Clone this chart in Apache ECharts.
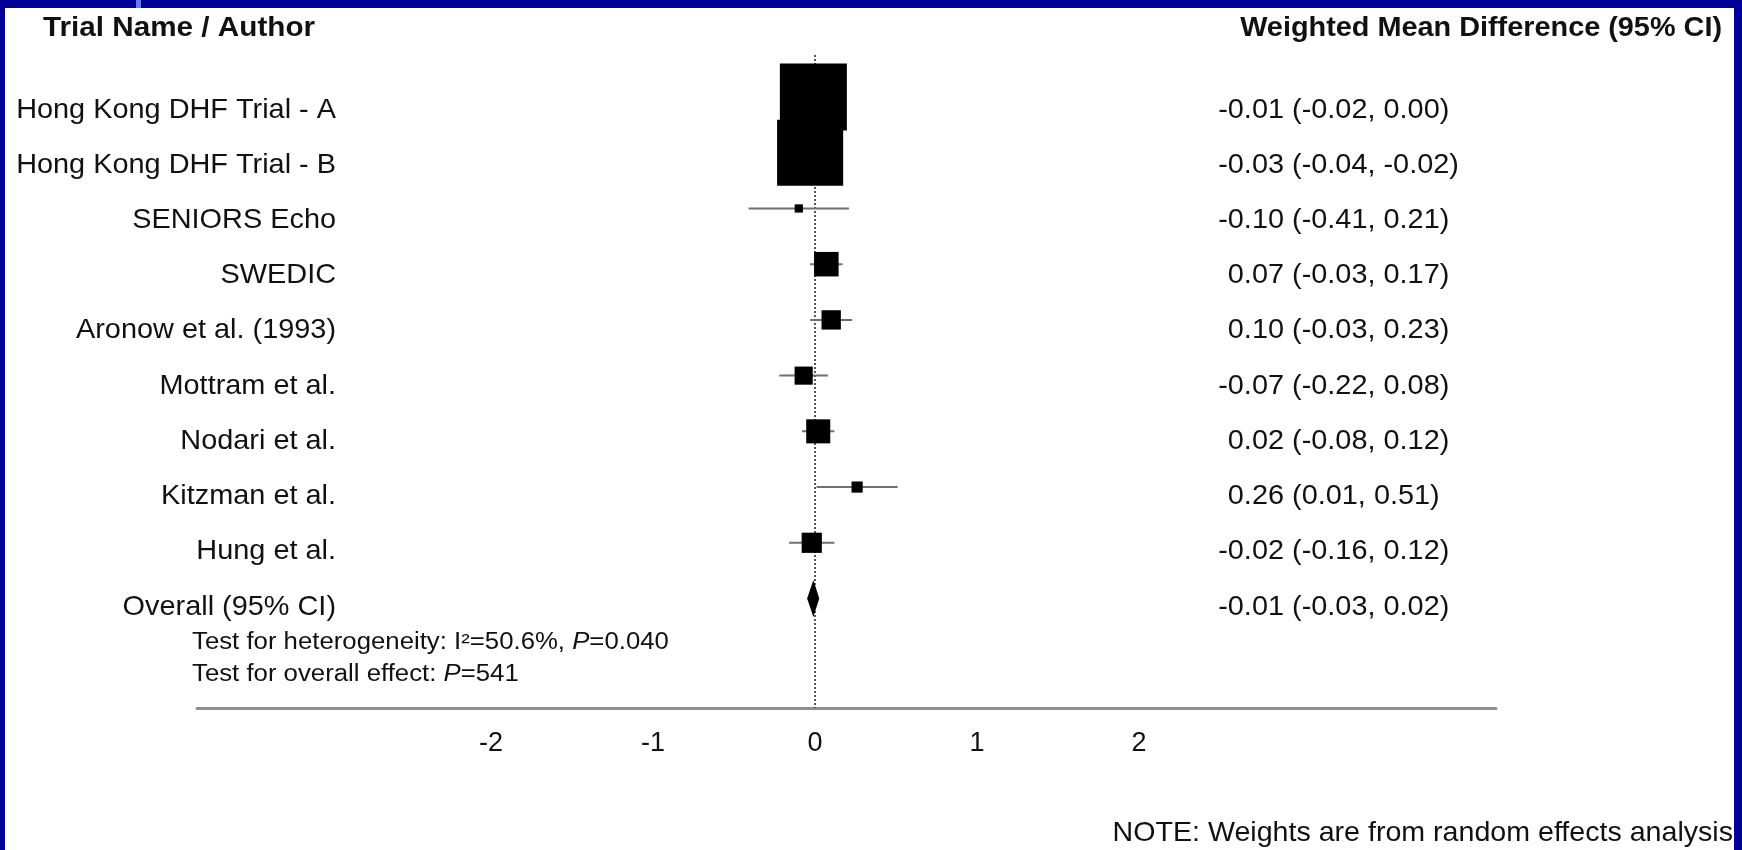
<!DOCTYPE html>
<html>
<head>
<meta charset="utf-8">
<title>Weighted Mean Difference - forest plot</title>
<script src="https://cdn.jsdelivr.net/npm/echarts@6/dist/echarts.min.js"></script>
<style>
html, body { margin: 0; padding: 0; background: #000098; }
#main { width: 1742px; height: 850px; }
</style>
</head>
<body>
<div id="main"></div>
<script>
var studies = [
    'Hong Kong DHF Trial - A',
    'Hong Kong DHF Trial - B',
    'SENIORS Echo',
    'SWEDIC',
    'Aronow et al. (1993)',
    'Mottram et al.',
    'Nodari et al.',
    'Kitzman et al.',
    'Hung et al.'
];
var estimates = [-0.01, -0.03, -0.10, 0.07, 0.10, -0.07, 0.02, 0.26, -0.02];
var lowerCI = [-0.02, -0.04, -0.41, -0.03, -0.03, -0.22, -0.08, 0.01, -0.16];
var upperCI = [0.00, -0.02, 0.21, 0.17, 0.23, 0.08, 0.12, 0.51, 0.12];
// % weights (random effects)
var weights = [39.6, 38.5, 0.6, 5.3, 3.3, 2.9, 5.1, 1.1, 3.6];

var overallLabel = 'Overall (95% CI)';
var overallEstimate = -0.01;
var overallLower = -0.03;
var overallUpper = 0.02;

var heterogeneityText = 'Test for heterogeneity: I\u00b2=50.6%, {i|P}=0.040';
var overallEffectText = 'Test for overall effect: {i|P}=541';
var noteText = 'NOTE: Weights are from random effects analysis';

var xTicks = [-2, -1, 0, 1, 2];

var FONT = '"Liberation Sans", Arial, sans-serif';
var BOX_SCALE = 10.65; // px per sqrt(weight)

function fmt(v) {
    return v.toFixed(2);
}

function textEl(str, x, y, align, size, stretch, weight) {
    return {
        type: 'text',
        x: x,
        y: y,
        scaleX: stretch,
        style: {
            text: str,
            fill: '#111',
            fontSize: size,
            fontFamily: FONT,
            fontWeight: weight || 'normal',
            align: align,
            verticalAlign: 'middle',
            rich: {
                i: { fontStyle: 'italic', fontSize: size, fontFamily: FONT, fill: '#111' }
            }
        }
    };
}

// text rows sit a little below the marks, and drift up slightly going down
function rowTexts(label, est, lo, hi, y, row) {
    var ty = y + 13 - 0.5 * row;
    return [
        textEl(label, 336, ty, 'right', 27.5, 1.05),
        textEl(fmt(est), 1284, ty, 'right', 27.5, 1.05),
        textEl(' (' + fmt(lo) + ', ' + fmt(hi) + ')', 1284, ty, 'left', 27.5, 1.05)
    ];
}

var studyData = studies.map(function (name, i) {
    return [estimates[i], i, lowerCI[i], upperCI[i], weights[i]];
});
var overallData = [[overallEstimate, studies.length, overallLower, overallUpper]];

var chart = echarts.init(document.getElementById('main'));

chart.setOption({
    animation: false,
    backgroundColor: '#000098',
    graphic: {
        elements: [
            { type: 'rect', z: -10, shape: { x: 5, y: 8, width: 1729, height: 842 }, style: { fill: '#fff' } },
            { type: 'rect', z: -10, shape: { x: 136, y: 0, width: 5, height: 8 }, style: { fill: '#5f7cf2' } },
            textEl('Trial Name / Author', 43, 28, 'left', 28, 1.06, 'bold'),
            textEl('Weighted Mean Difference (95% CI)', 1722, 28, 'right', 28, 1.03, 'bold'),
            textEl(heterogeneityText, 192, 643, 'left', 23, 1.12),
            textEl(overallEffectText, 192, 675, 'left', 23, 1.12),
            textEl(noteText, 1733, 833, 'right', 27.5, 1.04)
        ]
    },
    grid: {
        left: 197,
        right: 246,
        top: 55,
        bottom: 142,
        containLabel: false,
        outerBoundsMode: 'none'
    },
    xAxis: {
        type: 'value',
        min: -3.815,
        max: 4.204,
        splitLine: { show: false },
        axisTick: { show: false },
        axisLine: {
            onZero: false,
            lineStyle: { color: '#8f8f8f', width: 3 }
        },
        axisLabel: {
            customValues: xTicks,
            color: '#111',
            fontSize: 27,
            fontFamily: FONT,
            margin: 22,
            formatter: function (v) {
                return xTicks.indexOf(v) >= 0 ? String(v) : '';
            }
        }
    },
    yAxis: {
        type: 'value',
        inverse: true,
        min: -0.754,
        max: 10.965,
        show: false
    },
    series: [
        {
            name: 'studies',
            type: 'custom',
            z: 3,
            clip: false,
            data: studyData,
            renderItem: function (params, api) {
                var i = params.dataIndex;
                var row = api.value(1);
                var c = api.coord([api.value(0), row]);
                var l = api.coord([api.value(2), row]);
                var h = api.coord([api.value(3), row]);
                var s = Math.sqrt(api.value(4)) * BOX_SCALE;
                return {
                    type: 'group',
                    children: [
                        {
                            type: 'line',
                            shape: { x1: l[0], y1: l[1], x2: h[0], y2: h[1] },
                            style: { stroke: '#707070', lineWidth: 2 }
                        },
                        {
                            type: 'rect',
                            shape: { x: c[0] - s / 2, y: c[1] - s / 2, width: s, height: s },
                            style: { fill: '#000' }
                        }
                    ].concat(rowTexts(studies[i], api.value(0), api.value(2), api.value(3), c[1], row))
                };
            },
            markLine: {
                silent: true,
                z: 1,
                symbol: ['none', 'none'],
                label: { show: false },
                lineStyle: { color: '#555', width: 2, type: [2, 2] },
                data: [{ xAxis: 0 }]
            }
        },
        {
            name: 'overall',
            type: 'custom',
            z: 3,
            clip: false,
            data: overallData,
            renderItem: function (params, api) {
                var row = api.value(1);
                var c = api.coord([api.value(0), row]);
                var l = api.coord([api.value(2), row]);
                var h = api.coord([api.value(3), row]);
                var half = 18.5;
                return {
                    type: 'group',
                    children: [
                        {
                            type: 'polygon',
                            shape: { points: [[l[0] - 3, l[1]], [c[0], c[1] - half], [h[0] + 1, h[1]], [c[0], c[1] + half]] },
                            style: { fill: '#000' }
                        }
                    ].concat(rowTexts(overallLabel, api.value(0), api.value(2), api.value(3), c[1], row))
                };
            }
        }
    ]
});
</script>
</body>
</html>
